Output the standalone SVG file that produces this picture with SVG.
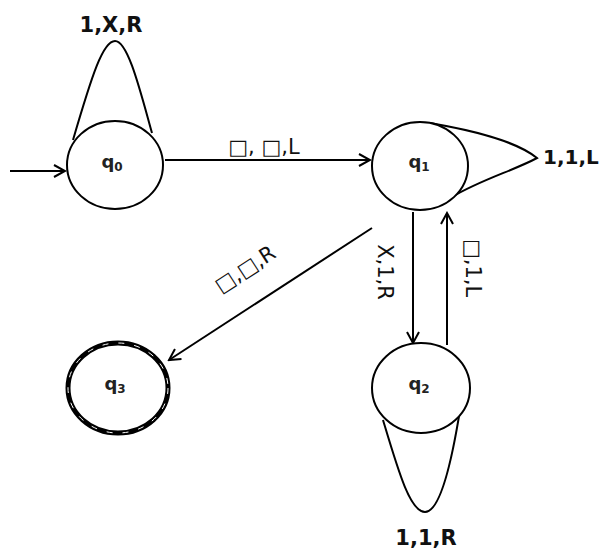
<svg xmlns="http://www.w3.org/2000/svg" width="608" height="550" viewBox="0 0 608 550">
<style>
.st{fill:#fff;stroke:#000;stroke-width:2}
.ln{fill:none;stroke:#000;stroke-width:2}
.lb{font-family:"DejaVu Sans",sans-serif;font-weight:bold;fill:#111}
.ql{font-family:"DejaVu Sans",sans-serif;font-weight:bold;font-size:18px;fill:#222;text-anchor:middle}
.el{font-family:"DejaVu Sans",sans-serif;font-size:21px;fill:#111;font-weight:500}
</style>
<defs>
<marker id="ah" markerWidth="14" markerHeight="14" refX="12" refY="7" orient="auto" markerUnits="userSpaceOnUse">
<path d="M1,1 L12,7 L1,13" fill="none" stroke="#000" stroke-width="2"/>
</marker>
</defs>
<g id="connectors">
<line class="ln" x1="10" y1="171" x2="65" y2="171" marker-end="url(#ah)"/>
<path class="ln" d="M73,140 C92,75 103,41 115,41 C128,41 140,90 152,133"/>
<line class="ln" x1="165" y1="160" x2="370" y2="160" marker-end="url(#ah)"/>
<path class="ln" d="M430,123 C470,130 515,140 537,158 C515,170 480,180 452,197"/>
<line class="ln" x1="372" y1="228" x2="169" y2="360" marker-end="url(#ah)"/>
<line class="ln" x1="413" y1="212" x2="413" y2="343" marker-end="url(#ah)"/>
<line class="ln" x1="447" y1="345" x2="447" y2="213" marker-end="url(#ah)"/>
<path class="ln" d="M383,420 C398,470 410,512 425,512 C440,512 452,460 460,410"/>
<text class="lb" x="111" y="32" font-size="21" text-anchor="middle">1,X,R</text>
<text class="el" x="264" y="154" text-anchor="middle">□, □,L</text>
<text class="lb" x="543" y="164" font-size="20">1,1,L</text>
<text class="el" transform="translate(249,275) rotate(-33)" text-anchor="middle">□,□,R</text>
<text class="el" transform="translate(378,272) rotate(90)" text-anchor="middle">X,1,R</text>
<text class="el" transform="translate(466,268) rotate(90)" text-anchor="middle">□,1,L</text>
<text class="lb" x="426" y="545" font-size="21" text-anchor="middle">1,1,R</text>
</g>
<g id="q0">
<ellipse class="st" cx="115" cy="165" rx="48" ry="44"/>
<text class="ql" x="112" y="168">q<tspan font-size="12" dy="3">0</tspan></text>
</g>
<g id="q1">
<ellipse class="st" cx="420" cy="166" rx="48" ry="44"/>
<text class="ql" x="419" y="168">q<tspan font-size="12" dy="3">1</tspan></text>
</g>
<g id="q2">
<ellipse class="st" cx="421" cy="388" rx="49" ry="45"/>
<text class="ql" x="419" y="390">q<tspan font-size="12" dy="3">2</tspan></text>
</g>
<g id="q3">
<ellipse fill="#fff" stroke="#000" stroke-width="5" cx="118" cy="388" rx="50" ry="45"/>
<ellipse fill="none" stroke="#fff" stroke-width="1" stroke-dasharray="6 10" cx="118" cy="388" rx="50" ry="45"/>
<text class="ql" x="115" y="390">q<tspan font-size="12" dy="3">3</tspan></text>
</g>
</svg>
